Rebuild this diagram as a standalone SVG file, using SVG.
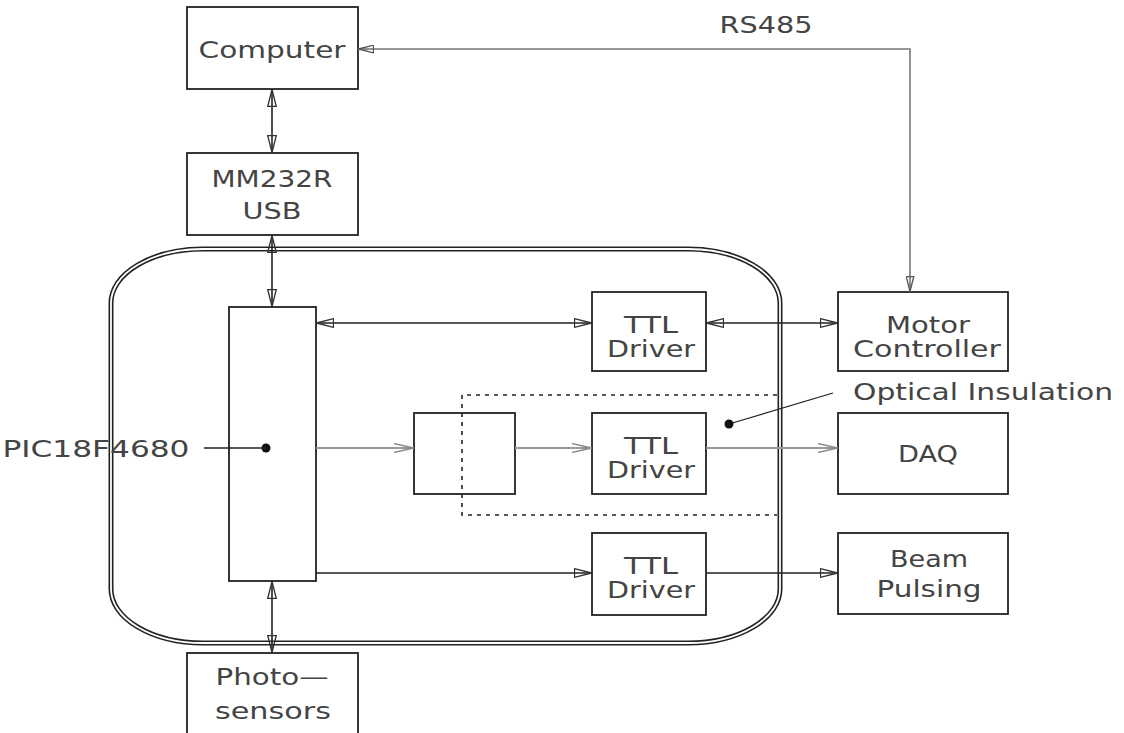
<svg xmlns="http://www.w3.org/2000/svg" width="1124" height="733" viewBox="0 0 1124 733">
<style>
.box{fill:#fff;stroke:#222;stroke-width:1.8}
.t{font-family:"DejaVu Sans","Liberation Sans",Arial,sans-serif;font-size:23px;fill:#444;text-anchor:middle}
.ln{fill:none;stroke:#222;stroke-width:1.6}
.gl{fill:none;stroke:#999;stroke-width:2.2}
.rl{fill:none;stroke:#777;stroke-width:1.6}
</style>
<defs>
<marker id="a" viewBox="0 0 18 10" refX="18" refY="5" markerWidth="18" markerHeight="10" markerUnits="userSpaceOnUse" orient="auto-start-reverse">
<path d="M0.5,0.7 L17.5,5 L0.5,9.3 z" fill="none" stroke="#333" stroke-width="1.3"/>
</marker>
<marker id="g" viewBox="0 0 20 10" refX="20" refY="5" markerWidth="20" markerHeight="10" markerUnits="userSpaceOnUse" orient="auto">
<path d="M0,0.6 L19.5,5 L0,9.4" fill="none" stroke="#888" stroke-width="1.5"/>
</marker>
<marker id="r" viewBox="0 0 16 9" refX="16" refY="4.5" markerWidth="16" markerHeight="9" markerUnits="userSpaceOnUse" orient="auto">
<path d="M0.5,0.7 L15.5,4.5 L0.5,8.3 z" fill="none" stroke="#555" stroke-width="1.3"/>
</marker>
</defs>
<rect width="1124" height="733" fill="#fff"/>

<g id="board">
<rect x="111" y="249" width="669" height="394" rx="92" ry="54" fill="none" stroke="#222" stroke-width="5"/>
<rect x="111" y="249" width="669" height="394" rx="92" ry="54" fill="none" stroke="#fff" stroke-width="1.8"/>
</g>

<g id="computer"><rect class="box" x="187" y="7" width="171" height="82"/><text class="t" x="272" y="58" textLength="147" lengthAdjust="spacingAndGlyphs">Computer</text></g>
<g id="mm232r"><rect class="box" x="187" y="153" width="171" height="82"/><text class="t" x="272" y="187" textLength="121" lengthAdjust="spacingAndGlyphs">MM232R</text><text class="t" x="272" y="219" textLength="59" lengthAdjust="spacingAndGlyphs">USB</text></g>
<g id="pic"><rect class="box" x="229" y="307" width="87" height="274"/><circle cx="266" cy="448" r="4.5" fill="#111"/></g>
<g id="pic-label"><text class="t" x="96" y="457" textLength="187" lengthAdjust="spacingAndGlyphs">PIC18F4680</text><line class="ln" x1="204" y1="448" x2="266" y2="448"/></g>
<g id="ttl1"><rect class="box" x="592" y="292" width="114" height="79"/><text class="t" x="651" y="333" textLength="54" lengthAdjust="spacingAndGlyphs">TTL</text><text class="t" x="651" y="357" textLength="88" lengthAdjust="spacingAndGlyphs">Driver</text></g>
<g id="motor"><rect class="box" x="838" y="292" width="170" height="79"/><text class="t" x="928" y="333" textLength="84" lengthAdjust="spacingAndGlyphs">Motor</text><text class="t" x="927" y="357" textLength="148" lengthAdjust="spacingAndGlyphs">Controller</text></g>
<g id="isolator"><rect class="box" x="414" y="413" width="101" height="81"/></g>
<g id="ttl2"><rect class="box" x="592" y="413" width="114" height="81"/><text class="t" x="651" y="454" textLength="54" lengthAdjust="spacingAndGlyphs">TTL</text><text class="t" x="651" y="478" textLength="88" lengthAdjust="spacingAndGlyphs">Driver</text></g>
<g id="daq"><rect class="box" x="838" y="413" width="170" height="81"/><text class="t" x="928" y="462" textLength="60" lengthAdjust="spacingAndGlyphs">DAQ</text></g>
<g id="ttl3"><rect class="box" x="592" y="533" width="114" height="82"/><text class="t" x="651" y="574" textLength="54" lengthAdjust="spacingAndGlyphs">TTL</text><text class="t" x="651" y="598" textLength="88" lengthAdjust="spacingAndGlyphs">Driver</text></g>
<g id="beam"><rect class="box" x="838" y="533" width="170" height="81"/><text class="t" x="929" y="567" textLength="78" lengthAdjust="spacingAndGlyphs">Beam</text><text class="t" x="929" y="597" textLength="105" lengthAdjust="spacingAndGlyphs">Pulsing</text></g>
<g id="photo"><rect class="box" x="187" y="653" width="171" height="90"/><text class="t" x="272" y="685" textLength="113" lengthAdjust="spacingAndGlyphs">Photo—</text><text class="t" x="273" y="719" textLength="116" lengthAdjust="spacingAndGlyphs">sensors</text></g>

<g id="insulation">
<path d="M777,395 H462 V515 H777" fill="none" stroke="#222" stroke-width="1.6" stroke-dasharray="4,5"/>
</g>

<g id="labels">
<text class="t" x="766" y="33" textLength="93" lengthAdjust="spacingAndGlyphs">RS485</text>
<text class="t" x="983" y="400" textLength="260" lengthAdjust="spacingAndGlyphs">Optical Insulation</text>
<line x1="833" y1="393" x2="729" y2="424" stroke="#222" stroke-width="1.3"/>
<circle cx="729" cy="424" r="4.5" fill="#111"/>
</g>

<g id="connectors">
<line class="ln" x1="272" y1="89" x2="272" y2="153" marker-start="url(#a)" marker-end="url(#a)"/>
<line class="ln" x1="272" y1="235" x2="272" y2="307" marker-start="url(#a)" marker-end="url(#a)"/>
<line class="ln" x1="272" y1="653" x2="272" y2="581" marker-start="url(#a)" marker-end="url(#a)"/>
<line class="ln" x1="316" y1="323" x2="592" y2="323" marker-start="url(#a)" marker-end="url(#a)"/>
<line class="ln" x1="706" y1="323" x2="838" y2="323" marker-start="url(#a)" marker-end="url(#a)"/>
<line class="gl" x1="316" y1="448" x2="414" y2="448" marker-end="url(#g)"/>
<line class="gl" x1="515" y1="448" x2="592" y2="448" marker-end="url(#g)"/>
<line class="gl" x1="706" y1="448" x2="838" y2="448" marker-end="url(#g)"/>
<line class="ln" x1="316" y1="573" x2="592" y2="573" marker-end="url(#a)"/>
<line class="ln" x1="706" y1="573" x2="838" y2="573" marker-end="url(#a)"/>
<polyline class="rl" points="376,49 910,49 910,292" marker-end="url(#r)"/>
<line class="rl" x1="376" y1="49" x2="358" y2="49" marker-end="url(#r)"/>
</g>
</svg>
